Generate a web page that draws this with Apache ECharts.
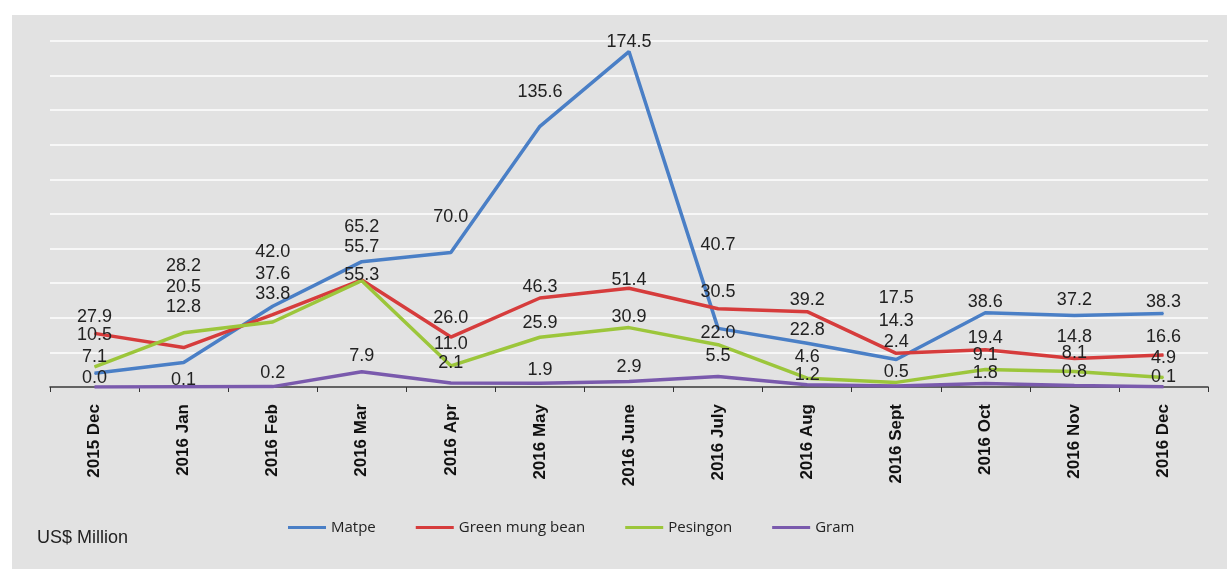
<!DOCTYPE html>
<html>
<head>
<meta charset="utf-8">
<script src="https://cdn.jsdelivr.net/npm/echarts@6/dist/echarts.min.js"></script>
<style>
  html, body { margin: 0; padding: 0; background: #ffffff; }
  #wrap { position: relative; width: 1227px; height: 569px; background: #ffffff; }
  #main { position: absolute; left: 12px; top: 15px; width: 1215px; height: 554px; background: #e2e2e2; }
</style>
</head>
<body>
<div id="wrap"><div id="main"></div></div>
<script>
// months on the x axis
var months = ['2015 Dec', '2016 Jan', '2016 Feb', '2016 Mar', '2016 Apr', '2016 May', '2016 June',
  '2016 July', '2016 Aug', '2016 Sept', '2016 Oct', '2016 Nov', '2016 Dec'];
// US$ Million per bean type
var matpe = [7.1, 12.8, 42.0, 65.2, 70.0, 135.6, 174.5, 30.5, 22.8, 14.3, 38.6, 37.2, 38.3];
var greenMung = [27.9, 20.5, 37.6, 55.7, 26.0, 46.3, 51.4, 40.7, 39.2, 17.5, 19.4, 14.8, 16.6];
var pesingon = [10.5, 28.2, 33.8, 55.3, 11.0, 25.9, 30.9, 22.0, 4.6, 2.4, 9.1, 8.1, 4.9];
var gram = [0.0, 0.1, 0.2, 7.9, 2.1, 1.9, 2.9, 5.5, 1.2, 0.5, 1.8, 0.8, 0.1];

// vertical nudge of each data label (px), the original labels are stacked by hand
var shiftMatpe = [-16, -55, -54, -35, -35, -34, -10, -36, -13, -38, -11, -15, -11];
var shiftGreenMung = [-16, -61, -41, -33, -19, -11, -8, -64, -12, -55, -12, -22, -18];
var shiftPesingon = [-32, -67, -28, -6, -22, -14, -11, -12, -21, -40, -14, -18, -20];
var shiftGram = [-9, -7, -14, -16, -20, -13, -14, -20, -10, -14, -11, -13, -10];

var names = ['Matpe', 'Green mung bean', 'Pesingon', 'Gram'];
var colors = ['#4a7fc6', '#d63c3c', '#9cc63b', '#7a5aad'];
var values = [matpe, greenMung, pesingon, gram];
var shifts = [shiftMatpe, shiftGreenMung, shiftPesingon, shiftGram];

var myChart = echarts.init(document.getElementById('main'));

var series = [];
for (var i = 0; i < names.length; i++) {
  var pts = values[i].map(function (v, j) {
    return { value: v, label: { offset: [0, shifts[i][j]] } };
  });
  series.push({
    name: names[i],
    type: 'line',
    data: pts,
    symbol: 'circle',
    symbolSize: 1,
    lineStyle: { width: 3.5, color: colors[i] },
    itemStyle: { color: colors[i] },
    label: {
      show: true,
      position: 'inside',
      fontFamily: 'Liberation Sans',
      fontSize: 18,
      color: '#222',
      formatter: function (p) { return p.value.toFixed(1); }
    }
  });
}

myChart.setOption({
  animation: false,
  textStyle: { fontFamily: 'Liberation Sans' },
  grid: { left: 38, right: 19, top: 26, bottom: 182 },
  title: {
    text: 'US$ Million',
    left: 20, top: 509,
    textStyle: { fontFamily: 'Liberation Sans', fontSize: 18, fontWeight: 'normal', color: '#222' }
  },
  legend: {
    data: names,
    left: 271, top: 500,
    itemWidth: 38, itemHeight: 3,
    itemGap: 40,
    icon: 'rect',
    textStyle: { fontFamily: 'Open Sans', fontSize: 15, color: '#222' }
  },
  xAxis: {
    type: 'category',
    data: months,
    boundaryGap: true,
    axisLine: { lineStyle: { color: '#333', width: 1.5 } },
    axisTick: { show: true, length: 5, lineStyle: { color: '#333' } },
    axisLabel: {
      rotate: 90, margin: 17, interval: 0,
      fontFamily: 'Liberation Sans', fontSize: 17, fontWeight: 'bold', color: '#111'
    }
  },
  yAxis: {
    type: 'value',
    min: 0, max: 180, interval: 18,
    axisLabel: { show: false },
    axisLine: { show: false },
    axisTick: { show: false },
    splitLine: { lineStyle: { color: '#f7f7f7', width: 2 } }
  },
  series: series
});
</script>
</body>
</html>
